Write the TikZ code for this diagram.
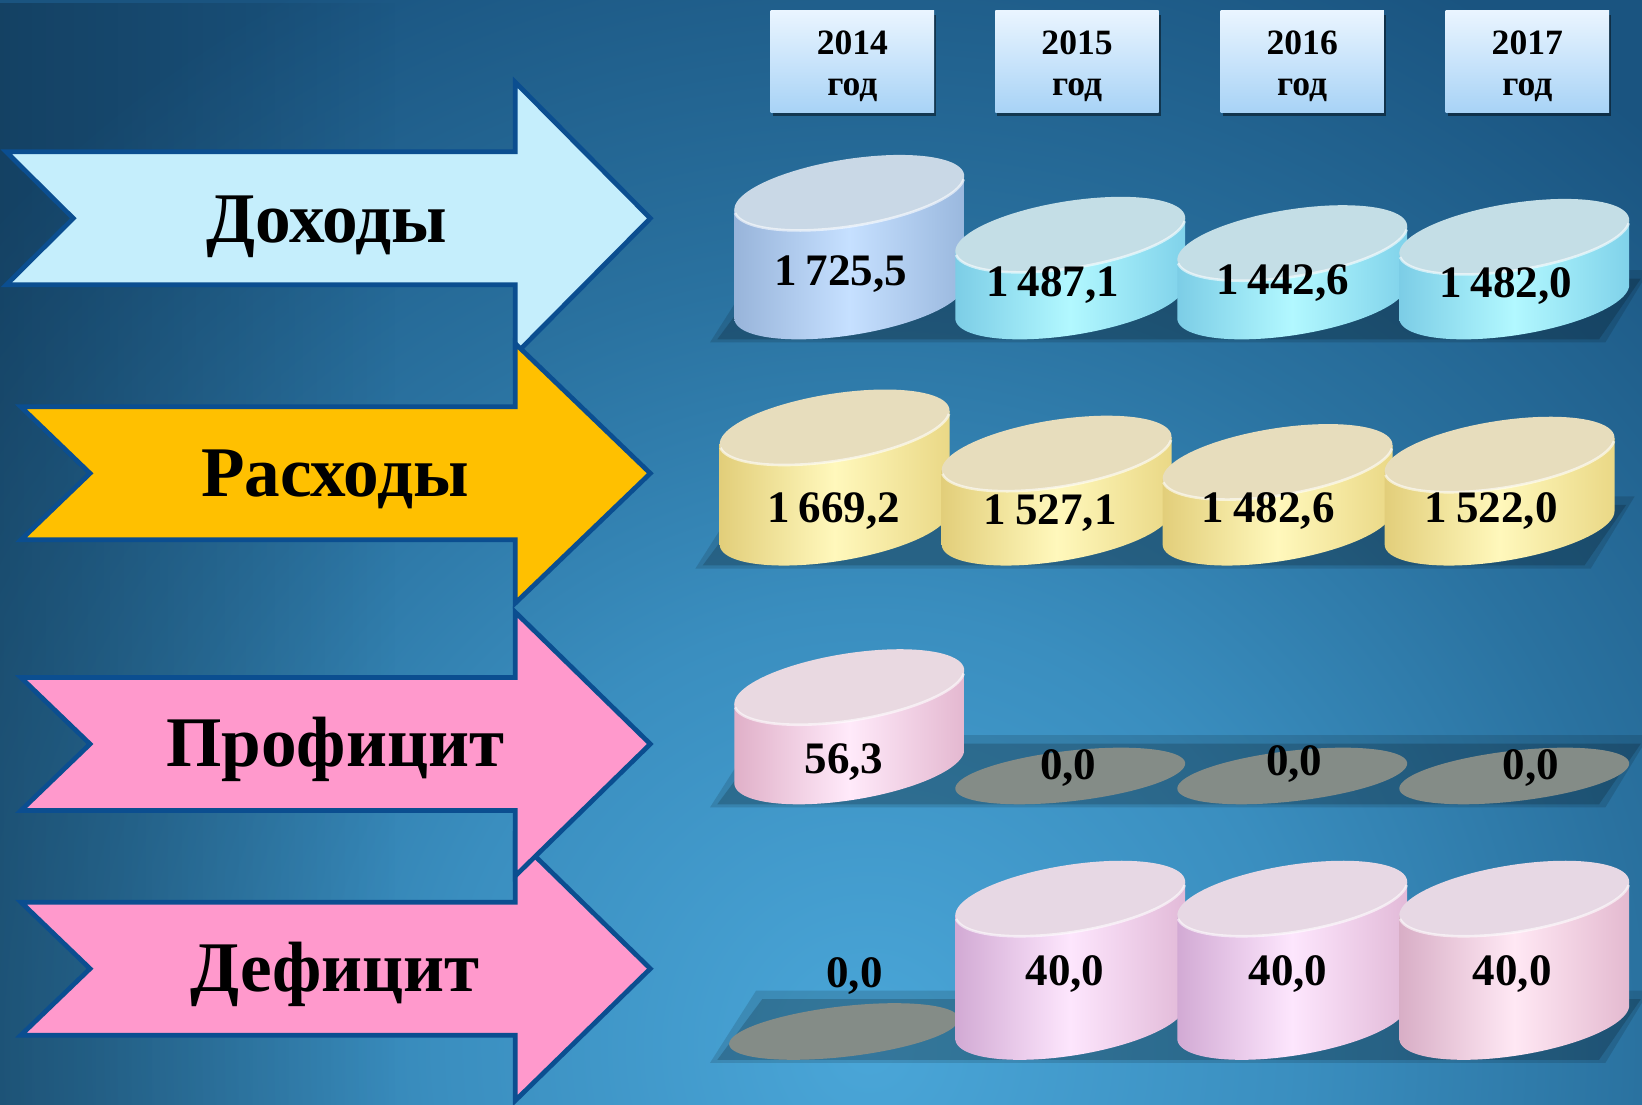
\documentclass[tikz,border=0pt]{standalone}
\usepackage{fontspec}
\setmainfont{Liberation Serif}
\usetikzlibrary{fadings}
\definecolor{bglight}{HTML}{4AA6D8}
\definecolor{bgm1}{HTML}{3A8EBF}
\definecolor{bgm2}{HTML}{2A72A0}
\definecolor{bgdark}{HTML}{1A5480}
\pgfdeclareradialshading{bgrad}{\pgfpointorigin}{color(0bp)=(bglight); color(9bp)=(bgm1); color(16bp)=(bgm2); color(25bp)=(bgdark); color(50bp)=(bgdark)}
\definecolor{arrowblue}{HTML}{0B4E90}
\definecolor{dohfill}{HTML}{C5EEFC}
\definecolor{rasfill}{HTML}{FFC000}
\definecolor{pinkfill}{HTML}{FF99CC}
\definecolor{yrtop}{HTML}{EAF5FF}
\definecolor{yrbot}{HTML}{A8D3F6}
\definecolor{blueL}{HTML}{98B4DA}\definecolor{blueM}{HTML}{C6E0FF}\definecolor{blueR}{HTML}{9AB8DE}\definecolor{blueT}{HTML}{C9D8E6}
\definecolor{cyanL}{HTML}{7CCDE6}\definecolor{cyanM}{HTML}{B2F8FF}\definecolor{cyanR}{HTML}{80D2EA}\definecolor{cyanT}{HTML}{C4DEE6}
\definecolor{yelL}{HTML}{E2CE7A}\definecolor{yelM}{HTML}{FFF8BC}\definecolor{yelR}{HTML}{EAD886}\definecolor{yelT}{HTML}{E7DDBD}
\definecolor{pinkL}{HTML}{E0B0C8}\definecolor{pinkM}{HTML}{FFEAFA}\definecolor{pinkR}{HTML}{E4B8D0}\definecolor{pinkT}{HTML}{E9D9E1}
\definecolor{lavL}{HTML}{D2AAD4}\definecolor{lavM}{HTML}{FDE6FD}\definecolor{lavR}{HTML}{E2BAD8}\definecolor{lavT}{HTML}{E7D8E4}
\definecolor{lavfL}{HTML}{D8AEC6}\definecolor{lavfM}{HTML}{FFE8F4}\definecolor{lavfR}{HTML}{E4BAD0}
\definecolor{grayell}{HTML}{848C87}

\tikzset{
  arrowline/.style={draw=arrowblue, line width=4.5pt, line join=miter, miter limit=10},
  arrowlbl/.style={font=\fontsize{68}{72}\selectfont\bfseries, text=black, anchor=base, inner sep=0pt},
  vallbl/.style={font=\fontsize{43}{46}\selectfont\bfseries, text=black, inner sep=0pt},
  yearbox/.style={minimum width=156pt, minimum height=97pt, inner sep=0pt, top color=yrtop, bottom color=yrbot},
  yeartxt/.style={align=center, inner sep=0pt, font=\fontsize{34}{39}\selectfont\bfseries, text=black},
  bluebody/.style={left color=blueL, right color=blueR, middle color=blueM},
  cyanbody/.style={left color=cyanL, right color=cyanR, middle color=cyanM},
  yelbody/.style={left color=yelL, right color=yelR, middle color=yelM},
  pinkbody/.style={left color=pinkL, right color=pinkR, middle color=pinkM},
  lavbody/.style={left color=lavL, right color=lavR, middle color=lavM},
  lavfbody/.style={left color=lavfL, right color=lavfR, middle color=lavfM},
}

% ellipse: a=111, b=32, tilted 9 degrees (right end higher)
% cylinder body: cx, ytop, ybot, style
\newcommand{\cylbody}[4]{%
  \shade[#4] (#1-109.75,#2+15.9) -- plot[domain=177.386:357.386,samples=60,variable=\t]
    ({#1+109.63*cos(\t)-5.006*sin(\t)},{#3-17.364*cos(\t)-31.606*sin(\t)})
    -- (#1+109.75,#2-15.9) -- cycle;}
% cylinder top face: cx, y, colour
\newcommand{\cyltop}[3]{%
  \fill[#3] plot[domain=0:360,samples=90,variable=\t]
    ({#1+109.63*cos(\t)-5.006*sin(\t)},{#2-17.364*cos(\t)-31.606*sin(\t)}) -- cycle;
  \draw[white,opacity=.6,line width=2.5pt] plot[domain=184:352,samples=50,variable=\t]
    ({#1+109.63*cos(\t)-5.006*sin(\t)},{#2-17.364*cos(\t)-31.606*sin(\t)});}
\newcommand{\mycyl}[5]{\cylbody{#1}{#2}{#3}{#4}\cyltop{#1}{#2}{#5}}
% flat zero disc: cx, y
\newcommand{\flatdisc}[2]{%
  \fill[grayell] plot[domain=0:360,samples=90,variable=\t]
    ({#1+109.63*cos(\t)-5.006*sin(\t)},{#2-0.75*(17.364*cos(\t)+31.606*sin(\t))}) -- cycle;}
% floor shadow of a row: x0, x1, ylow
\newcommand{\floorshadow}[3]{%
  \fill[black,opacity=.13] (#1-22,#3+3) -- (#2-24,#3+3) -- (#2+18,#3-66) -- (#1+22,#3-66) -- cycle;
  \fill[black,opacity=.17] (#1-15,#3) -- (#2-30,#3) -- (#2+10,#3-58) -- (#1+28,#3-58) -- cycle;}
% arrow: cy, left x, notch x, head half height, fill
\newcommand{\bigarrow}[5]{%
  \draw[arrowline, fill=#5] (#2,#1-63.5) -- (492,#1-63.5) -- (492,#1-#4) -- (621,#1)
    -- (492,#1+#4) -- (492,#1+63.5) -- (#2,#1+63.5) -- (#3,#1) -- cycle;}

\begin{document}
\begin{tikzpicture}[x=1pt,y=-1pt]
\useasboundingbox (0,0) rectangle (1568,1055);
% background
\fill[bgdark] (0,0) rectangle (1568,1055);
\begin{scope}
  \clip (0,0) rectangle (1568,1055);
  \shade[shading=bgrad] (830,1000) circle (1150);
\end{scope}
\fill[black,opacity=.22,path fading=east] (0,0) rectangle (380,1055);

% year boxes
\foreach \cx/\yr/\nm in {814/2014/y14, 1028.5/2015/y15, 1243.5/2016/y16, 1458.5/2017/y17}{
  \fill[black,opacity=.45] (\cx-76,14) rectangle (\cx+80,111);
  \node[yearbox] (\nm) at (\cx,58.5) {};
  \node[yeartxt] (t\nm) at (\cx,63) {\yr\\год};
}

% arrows
\bigarrow{208.5}{6}{70}{130}{dohfill}
\bigarrow{452}{20}{86}{124}{rasfill}
\bigarrow{925}{20}{86}{126}{pinkfill}
\bigarrow{710.5}{20}{86}{126}{pinkfill}
\node[arrowlbl] (dohody) at (312,232) {Доходы};
\node[arrowlbl] (rashody) at (320,474) {Расходы};
\node[arrowlbl] (proficit) at (320,732) {Профицит};
\node[arrowlbl] (deficit) at (320,947) {Дефицит};

% row 1: income
\floorshadow{700}{1557}{324}
\mycyl{811}{184}{288}{bluebody}{blueT}
\mycyl{1022}{224}{288}{cyanbody}{cyanT}
\mycyl{1234}{232}{288}{cyanbody}{cyanT}
\mycyl{1446}{226}{288}{cyanbody}{cyanT}
\node[vallbl] (d14) at (803,262) {1\hspace{.2em}725,5};
\node[vallbl] (d15) at (1005,272) {1\hspace{.2em}487,1};
\node[vallbl] (d16) at (1225,270) {1\hspace{.2em}442,6};
\node[vallbl] (d17) at (1438,273) {1\hspace{.2em}482,0};

% row 2: expenses
\floorshadow{686}{1543}{540}
\mycyl{797}{408}{504}{yelbody}{yelT}
\mycyl{1009}{433}{504}{yelbody}{yelT}
\mycyl{1220}{441}{504}{yelbody}{yelT}
\mycyl{1432}{434}{504}{yelbody}{yelT}
\node[vallbl] (r14) at (796,488) {1\hspace{.2em}669,2};
\node[vallbl] (r15) at (1003,490) {1\hspace{.2em}527,1};
\node[vallbl] (r16) at (1211,488) {1\hspace{.2em}482,6};
\node[vallbl] (r17) at (1424,488) {1\hspace{.2em}522,0};

% row 3: surplus
\floorshadow{700}{1557}{768}
\mycyl{811}{656}{732}{pinkbody}{pinkT}
\flatdisc{1022}{741}
\flatdisc{1234}{741}
\flatdisc{1446}{741}
\node[vallbl] (p14) at (806,728) {56,3};
\node[vallbl] (p15) at (1020,733) {0,0};
\node[vallbl] (p16) at (1236,730) {0,0};
\node[vallbl] (p17) at (1462,733) {0,0};

% row 4: deficit
\floorshadow{700}{1557}{1012}
\flatdisc{806}{985}
\mycyl{1022}{858}{976}{lavbody}{lavT}
\mycyl{1234}{858}{976}{lavbody}{lavT}
\mycyl{1446}{858}{976}{lavfbody}{lavT}
\node[vallbl] (f14) at (816,932) {0,0};
\node[vallbl] (f15) at (1017,930) {40,0};
\node[vallbl] (f16) at (1230,930) {40,0};
\node[vallbl] (f17) at (1444,930) {40,0};
\end{tikzpicture}
\end{document}
